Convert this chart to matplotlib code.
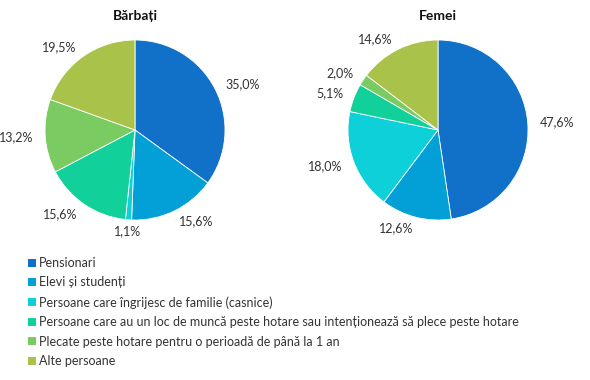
import numpy as np
import matplotlib
matplotlib.use("Agg")
import matplotlib.pyplot as plt
from matplotlib.patches import Patch

plt.rcParams['font.family'] = ['Lato', 'DejaVu Sans']

categories = [
    "Pensionari",
    "Elevi și studenți",
    "Persoane care îngrijesc de familie (casnice)",
    "Persoane care au un loc de muncă peste hotare sau intenționează să plece peste hotare",
    "Plecate peste hotare pentru o perioadă de până la 1 an",
    "Alte persoane",
]
barbati = [35.0, 15.6, 1.1, 15.6, 13.2, 19.5]
femei = [47.6, 12.6, 18.0, 5.1, 2.0, 14.6]
titles = ["Bărbați", "Femei"]
colors = ["#1170C8", "#02A0D6", "#0DD0D8", "#12D09A", "#7ACB62", "#A8C24A"]

W, H = 590, 380
fig = plt.figure(figsize=(W / 100, H / 100), dpi=100)
txt = "#333333"

def draw(cx, cy, r, values, title):
    ax = fig.add_axes([(cx - r) / W, (H - cy - r) / H, 2 * r / W, 2 * r / H])
    wedges, _ = ax.pie(values, colors=colors, startangle=90, counterclock=False,
                       radius=1, wedgeprops=dict(edgecolor="white", linewidth=0.6))
    ax.set_xlim(-1, 1)
    ax.set_ylim(-1, 1)
    ax.set_aspect("equal")
    ax.axis("off")
    for w, v in zip(wedges, values):
        ang = np.deg2rad((w.theta1 + w.theta2) / 2)
        c, s = np.cos(ang), np.sin(ang)
        d = 1.13
        if abs(c) < 0.2:
            ha = "center"
        elif c > 0:
            ha = "left"
        else:
            ha = "right"
        ax.text(d * c, d * s, f"{v:.1f}%".replace(".", ","), ha=ha, va="center",
                fontsize=9, color=txt, clip_on=False)
    fig.text(cx / W, 1 - 16 / H, title, ha="center", va="center",
             fontsize=10, fontweight="bold", color="#111111")

draw(135, 130, 90, barbati, titles[0])
draw(438, 130, 90, femei, titles[1])

handles = [Patch(facecolor=c, edgecolor="none") for c in colors]
leg = fig.legend(handles, categories, loc="upper left",
                 bbox_to_anchor=(23 / W, 1 - 252 / H), frameon=False,
                 fontsize=9, handlelength=0.6, handleheight=0.6,
                 handletextpad=0.25, labelspacing=0.6, borderaxespad=0,
                 labelcolor=txt)

fig.savefig("out.png", dpi=100)
